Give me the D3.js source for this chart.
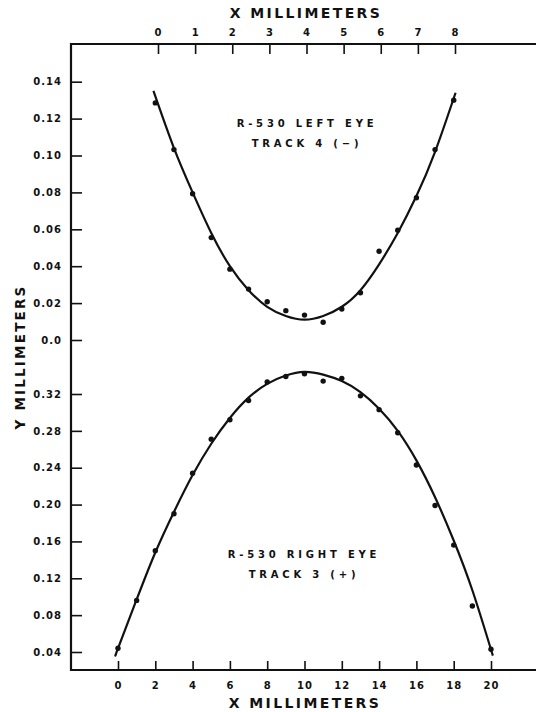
<!DOCTYPE html>
<html>
<head>
<meta charset="utf-8">
<script src="https://cdn.jsdelivr.net/npm/d3@7"></script>
<style>
  body { margin: 0; background: #fff; }
  svg { display: block; }
  text { font-family: "DejaVu Sans", sans-serif; font-weight: bold; fill: #111; }
  .tick line { stroke: #111; stroke-width: 1.6; }
  .tick text { font-size: 10px; letter-spacing: 1px; }
</style>
</head>
<body>
<script>
// Axis ticks
var xTicksBottom = [0, 2, 4, 6, 8, 10, 12, 14, 16, 18, 20];
var xTicksTop = [0, 1, 2, 3, 4, 5, 6, 7, 8];
var yTicksUpper = [0.14, 0.12, 0.10, 0.08, 0.06, 0.04, 0.02, 0.0];
var yLabelsUpper = ['0.14', '0.12', '0.10', '0.08', '0.06', '0.04', '0.02', '0.0'];
var yTicksLower = [0.32, 0.28, 0.24, 0.20, 0.16, 0.12, 0.08, 0.04];
var yLabelsLower = ['0.32', '0.28', '0.24', '0.20', '0.16', '0.12', '0.08', '0.04'];

// Left eye, track 4 (-) : measured points and drawn curve
var upperX = [2, 3, 4, 5, 6, 7, 8, 9, 10, 11, 12, 13, 14, 15, 16, 17, 18];
var upperY = [0.1285, 0.1032, 0.0793, 0.0555, 0.0384, 0.0276, 0.0207, 0.0159, 0.0135,
              0.0096, 0.0168, 0.0256, 0.0481, 0.0595, 0.0771, 0.1032, 0.130];
var upperFitX = [1.9, 3, 4, 5, 6, 7, 8, 9, 10, 11, 12, 13, 14, 15, 16, 17, 18.1];
var upperFitY = [0.135, 0.104, 0.080, 0.058, 0.040, 0.027, 0.018, 0.013, 0.011,
                 0.013, 0.018, 0.027, 0.041, 0.058, 0.078, 0.102, 0.134];

// Right eye, track 3 (+) : measured points and drawn curve
var lowerX = [0, 1, 2, 3, 4, 5, 6, 7, 8, 9, 10, 11, 12, 13, 14, 15, 16, 17, 18, 19, 20];
var lowerY = [0.044, 0.096, 0.150, 0.190, 0.234, 0.271, 0.292, 0.313, 0.333, 0.339, 0.342,
              0.334, 0.337, 0.318, 0.303, 0.278, 0.243, 0.199, 0.156, 0.090, 0.043];
var lowerFitX = [-0.1, 0, 1, 2, 3, 4, 5, 6, 7, 8, 9, 10, 11, 12, 13, 14, 15, 16, 17, 18, 19, 20.1];
var lowerFitY = [0.038, 0.044, 0.097, 0.148, 0.192, 0.232, 0.266, 0.294, 0.316, 0.331, 0.340,
                 0.344, 0.341, 0.334, 0.322, 0.304, 0.280, 0.248, 0.208, 0.161, 0.107, 0.036];

var W = 536, H = 712;
var frameLeft = 71, frameTop = 44, frameBottom = 670, frameRight = 536;

var svg = d3.select('body').append('svg')
    .attr('width', W)
    .attr('height', H);

// Scales
var x = d3.scaleLinear().domain([0, 20]).range([118, 491]);
var xTop = d3.scaleLinear().domain([0, 8]).range([158, 455]);
var yUp = d3.scaleLinear().domain([0, 0.14]).range([340, 81.7]);
var yLo = d3.scaleLinear().domain([0.04, 0.32]).range([652, 394]);

// Axes (ticks point inward)
function tidy(g) {
    g.select('.domain').remove();
}

svg.append('g')
    .attr('transform', 'translate(0,' + frameBottom + ')')
    .call(d3.axisBottom(x).tickValues(xTicksBottom).tickSizeInner(-9).tickSizeOuter(0).tickPadding(12))
    .call(tidy);

svg.append('g')
    .attr('transform', 'translate(0,' + frameTop + ')')
    .call(d3.axisTop(xTop).tickValues(xTicksTop).tickSizeInner(-10).tickSizeOuter(0).tickPadding(8.5))
    .call(tidy);

svg.append('g')
    .attr('transform', 'translate(' + frameLeft + ',0)')
    .call(d3.axisLeft(yUp).tickValues(yTicksUpper).tickSizeInner(-11).tickSizeOuter(0).tickPadding(9)
        .tickFormat(function (d, i) { return yLabelsUpper[i]; }))
    .call(tidy);

svg.append('g')
    .attr('transform', 'translate(' + frameLeft + ',0)')
    .call(d3.axisLeft(yLo).tickValues(yTicksLower).tickSizeInner(-11).tickSizeOuter(0).tickPadding(9)
        .tickFormat(function (d, i) { return yLabelsLower[i]; }))
    .call(tidy);

svg.selectAll('.tick text').attr('fill', '#111');

// Frame: left, top and bottom rules (open on the right)
var frame = svg.append('g')
    .attr('stroke', '#111')
    .attr('stroke-width', 2.2)
    .attr('fill', 'none');
frame.append('line').attr('x1', frameLeft).attr('x2', frameLeft).attr('y1', frameTop - 1).attr('y2', frameBottom + 1);
frame.append('line').attr('x1', frameLeft).attr('x2', frameRight).attr('y1', frameTop).attr('y2', frameTop);
frame.append('line').attr('x1', frameLeft).attr('x2', frameRight).attr('y1', frameBottom).attr('y2', frameBottom);

// Axis titles
svg.append('text')
    .attr('x', 306).attr('y', 13)
    .attr('text-anchor', 'middle').attr('dominant-baseline', 'central')
    .style('font-size', '14px').style('letter-spacing', '2.4px')
    .text('X  MILLIMETERS');

svg.append('text')
    .attr('x', 305).attr('y', 702.5)
    .attr('text-anchor', 'middle').attr('dominant-baseline', 'central')
    .style('font-size', '14px').style('letter-spacing', '2.4px')
    .text('X  MILLIMETERS');

svg.append('text')
    .attr('transform', 'translate(20,357) rotate(-90)')
    .attr('text-anchor', 'middle').attr('dominant-baseline', 'central')
    .style('font-size', '13.5px').style('letter-spacing', '2.2px')
    .text('Y  MILLIMETERS');

// Curves and points
var lineUp = d3.line()
    .x(function (d) { return x(d[0]); })
    .y(function (d) { return yUp(d[1]); })
    .curve(d3.curveNatural);
var lineLo = d3.line()
    .x(function (d) { return x(d[0]); })
    .y(function (d) { return yLo(d[1]); })
    .curve(d3.curveNatural);

svg.append('path')
    .datum(d3.zip(upperFitX, upperFitY))
    .attr('d', lineUp)
    .attr('fill', 'none').attr('stroke', '#111').attr('stroke-width', 2.2);

svg.append('path')
    .datum(d3.zip(lowerFitX, lowerFitY))
    .attr('d', lineLo)
    .attr('fill', 'none').attr('stroke', '#111').attr('stroke-width', 2.2);

svg.append('g').selectAll('circle')
    .data(d3.zip(upperX, upperY))
    .enter().append('circle')
    .attr('cx', function (d) { return x(d[0]); })
    .attr('cy', function (d) { return yUp(d[1]); })
    .attr('r', 2.7)
    .attr('fill', '#111');

svg.append('g').selectAll('circle')
    .data(d3.zip(lowerX, lowerY))
    .enter().append('circle')
    .attr('cx', function (d) { return x(d[0]); })
    .attr('cy', function (d) { return yLo(d[1]); })
    .attr('r', 2.7)
    .attr('fill', '#111');

// Panel labels
function label(lines, cx, cy) {
    lines.forEach(function (t, i) {
        svg.append('text')
            .attr('x', cx).attr('y', cy + i * 20.5)
            .attr('text-anchor', 'middle').attr('dominant-baseline', 'central')
            .style('font-size', '10px').style('letter-spacing', '3.8px')
            .text(t);
    });
}
label(['R-530  LEFT  EYE', 'TRACK  4  (\u2212)'], 307, 123);
label(['R-530  RIGHT  EYE', 'TRACK  3  (+)'], 304, 554);
</script>
</body>
</html>
